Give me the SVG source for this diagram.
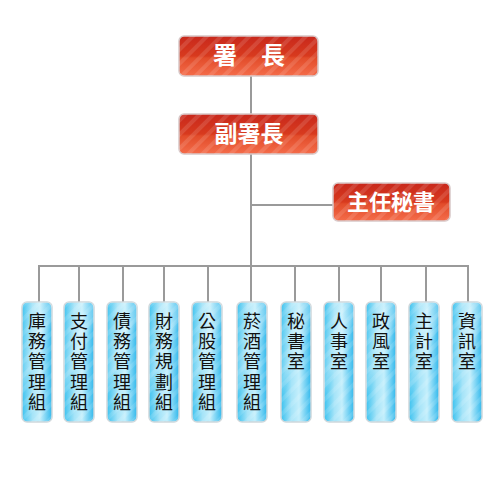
<svg xmlns="http://www.w3.org/2000/svg" width="500" height="480" viewBox="0 0 500 480">
<defs>
<linearGradient id="red" x1="0" y1="0" x2="0" y2="1">
<stop offset="0" stop-color="#c8281c"/>
<stop offset="0.5" stop-color="#d83a1e"/>
<stop offset="0.55" stop-color="#e24c2a"/>
<stop offset="1" stop-color="#f46c4a"/>
</linearGradient>
<linearGradient id="blue" x1="0" y1="0" x2="1" y2="0">
<stop offset="0" stop-color="#3cc2ef"/>
<stop offset="0.35" stop-color="#a6e4f8"/>
<stop offset="0.6" stop-color="#c4effc"/>
<stop offset="1" stop-color="#30b8ec"/>
</linearGradient>
<pattern id="stripe" width="10" height="10" patternUnits="userSpaceOnUse" patternTransform="rotate(45)">
<rect width="4" height="10" fill="#fff" opacity="0.12"/>
</pattern>
<linearGradient id="sheen" x1="0" y1="0" x2="0.6" y2="1">
<stop offset="0" stop-color="#fff" stop-opacity="0"/>
<stop offset="0.5" stop-color="#fff" stop-opacity="0.25"/>
<stop offset="0.6" stop-color="#fff" stop-opacity="0"/>
<stop offset="1" stop-color="#fff" stop-opacity="0"/>
</linearGradient>
</defs>
<style>
.rb{fill:url(#red);stroke:#d8c8c8;stroke-width:1.5}
.bb{fill:url(#blue);stroke:#cfd8dc;stroke-width:1.5}
.st{fill:url(#stripe)}
.sh{fill:url(#sheen)}
.rt{font-family:"Noto Sans CJK TC","Noto Sans CJK SC",sans-serif;font-weight:bold;fill:#fff;text-anchor:middle}
.bt{font-family:"Noto Sans CJK TC","Noto Sans CJK SC",sans-serif;font-size:18px;fill:#111;writing-mode:vertical-rl;letter-spacing:2.3px}
.ln{stroke:#9a9a9a;stroke-width:2;fill:none}
</style>
<g id="connectors">
<line class="ln" x1="251" y1="76" x2="251" y2="114"/>
<line class="ln" x1="251" y1="154" x2="251" y2="302"/>
<line class="ln" x1="251" y1="205" x2="333" y2="205"/>
<line class="ln" x1="38" y1="266" x2="469" y2="266"/>
<line class="ln" x1="39" y1="265" x2="39" y2="302"/>
<line class="ln" x1="79" y1="265" x2="79" y2="302"/>
<line class="ln" x1="123" y1="265" x2="123" y2="302"/>
<line class="ln" x1="164" y1="265" x2="164" y2="302"/>
<line class="ln" x1="208" y1="265" x2="208" y2="302"/>
<line class="ln" x1="295" y1="265" x2="295" y2="302"/>
<line class="ln" x1="339" y1="265" x2="339" y2="302"/>
<line class="ln" x1="381" y1="265" x2="381" y2="302"/>
<line class="ln" x1="426" y1="265" x2="426" y2="302"/>
<line class="ln" x1="468" y1="265" x2="468" y2="302"/>
</g>
<g id="n-chief">
<rect class="rb" x="179" y="36" width="139" height="40" rx="5"/>
<rect class="st" x="179" y="36" width="139" height="40" rx="5"/>
<text class="rt" x="249" y="64" font-size="24">署　長</text>
</g>
<g id="n-deputy">
<rect class="rb" x="179" y="114" width="139" height="40" rx="5"/>
<rect class="st" x="179" y="114" width="139" height="40" rx="5"/>
<text class="rt" x="249" y="142" font-size="23">副署長</text>
</g>
<g id="n-secretary">
<rect class="rb" x="333" y="183" width="117" height="38" rx="5"/>
<rect class="st" x="333" y="183" width="117" height="38" rx="5"/>
<text class="rt" x="391" y="210" font-size="22">主任秘書</text>
</g>
<g id="n1"><rect class="bb" x="22" y="302" width="30" height="120" rx="5"/><rect class="st" x="22" y="302" width="30" height="120" rx="5"/><rect class="sh" x="22" y="302" width="30" height="120" rx="5"/>
<text class="bt" x="37" y="312">庫務管理組</text></g>
<g id="n2"><rect class="bb" x="64" y="302" width="30" height="120" rx="5"/><rect class="st" x="64" y="302" width="30" height="120" rx="5"/><rect class="sh" x="64" y="302" width="30" height="120" rx="5"/>
<text class="bt" x="79" y="312">支付管理組</text></g>
<g id="n3"><rect class="bb" x="107" y="302" width="30" height="120" rx="5"/><rect class="st" x="107" y="302" width="30" height="120" rx="5"/><rect class="sh" x="107" y="302" width="30" height="120" rx="5"/>
<text class="bt" x="122" y="312">債務管理組</text></g>
<g id="n4"><rect class="bb" x="149" y="302" width="30" height="120" rx="5"/><rect class="st" x="149" y="302" width="30" height="120" rx="5"/><rect class="sh" x="149" y="302" width="30" height="120" rx="5"/>
<text class="bt" x="164" y="312">財務規劃組</text></g>
<g id="n5"><rect class="bb" x="192" y="302" width="30" height="120" rx="5"/><rect class="st" x="192" y="302" width="30" height="120" rx="5"/><rect class="sh" x="192" y="302" width="30" height="120" rx="5"/>
<text class="bt" x="207" y="312">公股管理組</text></g>
<g id="n6"><rect class="bb" x="237" y="302" width="30" height="120" rx="5"/><rect class="st" x="237" y="302" width="30" height="120" rx="5"/><rect class="sh" x="237" y="302" width="30" height="120" rx="5"/>
<text class="bt" x="252" y="312">菸酒管理組</text></g>
<g id="n7"><rect class="bb" x="281" y="302" width="30" height="120" rx="5"/><rect class="st" x="281" y="302" width="30" height="120" rx="5"/><rect class="sh" x="281" y="302" width="30" height="120" rx="5"/>
<text class="bt" x="296" y="312">秘書室</text></g>
<g id="n8"><rect class="bb" x="324" y="302" width="30" height="120" rx="5"/><rect class="st" x="324" y="302" width="30" height="120" rx="5"/><rect class="sh" x="324" y="302" width="30" height="120" rx="5"/>
<text class="bt" x="339" y="312">人事室</text></g>
<g id="n9"><rect class="bb" x="366" y="302" width="30" height="120" rx="5"/><rect class="st" x="366" y="302" width="30" height="120" rx="5"/><rect class="sh" x="366" y="302" width="30" height="120" rx="5"/>
<text class="bt" x="381" y="312">政風室</text></g>
<g id="n10"><rect class="bb" x="409" y="302" width="30" height="120" rx="5"/><rect class="st" x="409" y="302" width="30" height="120" rx="5"/><rect class="sh" x="409" y="302" width="30" height="120" rx="5"/>
<text class="bt" x="424" y="312">主計室</text></g>
<g id="n11"><rect class="bb" x="452" y="302" width="30" height="120" rx="5"/><rect class="st" x="452" y="302" width="30" height="120" rx="5"/><rect class="sh" x="452" y="302" width="30" height="120" rx="5"/>
<text class="bt" x="467" y="312">資訊室</text></g>
</svg>
